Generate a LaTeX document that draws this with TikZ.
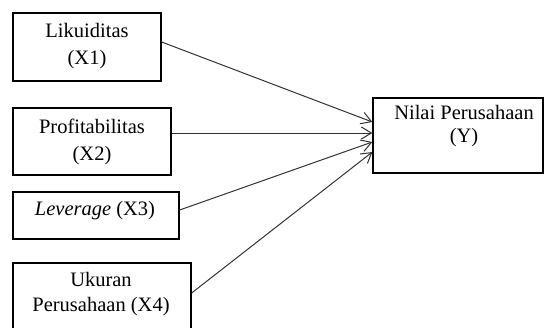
\documentclass[tikz,border=0pt]{standalone}
\usepackage{fontspec}
\setmainfont{Liberation Serif}
\usetikzlibrary{arrows.meta}
\begin{document}
\begin{tikzpicture}[x=1pt,y=-1pt,
  box/.style={draw=black,line width=1.3pt,rectangle,inner sep=0pt},
  txt/.style={align=center,inner sep=0pt,font=\fontsize{20.5}{27}\selectfont},
  arr/.style={draw=black!80,line width=1pt,-{Straight Barb[length=10pt,width=12pt,line width=1pt]}}]
\useasboundingbox (0,0) rectangle (544,327);
\fill[white] (0,0) rectangle (544,327);
\node[box,minimum width=148pt,minimum height=68pt] (b1) at (87,47) {};
\node[box,minimum width=158pt,minimum height=67pt] (b2) at (92,141.5) {};
\node[box,minimum width=166pt,minimum height=47pt] (b3) at (96,215.5) {};
\node[box,minimum width=178pt,minimum height=67pt] (b4) at (102,296.5) {};
\node[box,minimum width=170pt,minimum height=75pt] (y) at (458,135.5) {};
\node[txt] (t1) at (87,46.5) {Likuiditas\\(X1)};
\node[txt] (t2) at (92,141.5) {Profitabilitas\\(X2)};
\node[txt] (t3) at (95,211) {\textit{Leverage} (X3)};
\node[txt,font=\fontsize{20.5}{25}\selectfont] (t4) at (101,294.5) {Ukuran\\Perusahaan (X4)};
\node[txt,font=\fontsize{20.5}{23}\selectfont] (ty) at (464,126.5) {Nilai Perusahaan\\(Y)};
\draw[arr] ([yshift=5pt]b1.east) -- ([yshift=13.5pt]y.west);
\draw[arr] ([yshift=8.5pt]b2.east) -- ([yshift=2.5pt]y.west);
\draw[arr] ([yshift=5.5pt]b3.east) -- ([yshift=-6.5pt]y.west);
\draw[arr] ([yshift=3.5pt]b4.east) -- ([yshift=-16.5pt]y.west);
\end{tikzpicture}
\end{document}
